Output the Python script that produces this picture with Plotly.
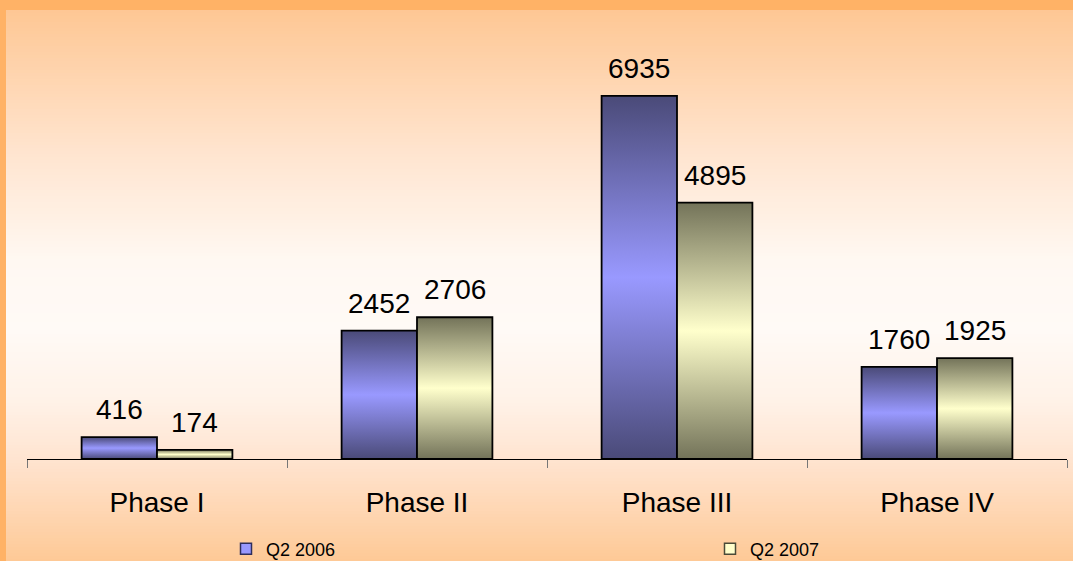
import plotly.graph_objects as go

# ---- data ----
phases = ["Phase I", "Phase II", "Phase III", "Phase IV"]
series_names = ["Q2 2006", "Q2 2007"]
q2_2006 = [416, 2452, 6935, 1760]
q2_2007 = [174, 2706, 4895, 1925]

# ---- styling ----
FONT = "Liberation Sans, Arial, sans-serif"
W, H = 1073, 561
M_L, M_R, M_T, M_B = 27, 6, 40, 102
Y_MAX = 8000
HALF = 0.29  # width of one bar in category units

shade = {
    "Q2 2006": ("#4a4a78", "#9999ff"),
    "Q2 2007": ("#737359", "#ffffcc"),
}
legend_fill = {"Q2 2006": "#9999ff", "Q2 2007": "#ffffcc"}
legend_edge = {"Q2 2006": "#2e2e5c", "Q2 2007": "#4a4a38"}
legend_left = {"Q2 2006": 226, "Q2 2007": 710}  # pixel x of each legend box

fig = go.Figure()

# bars drawn as filled outlines so each one can carry a dark-light-dark shading
for name, values, side in ((series_names[0], q2_2006, -1), (series_names[1], q2_2007, 1)):
    dark, light = shade[name]
    for i, v in enumerate(values):
        xa, xb = (i - HALF, i) if side < 0 else (i, i + HALF)
        fig.add_trace(go.Scatter(
            x=[xa, xa, xb, xb, xa], y=[0, v, v, 0, 0],
            mode="lines", fill="toself",
            line=dict(color="#000000", width=1.8),
            fillgradient=dict(type="vertical", start=0, stop=v,
                              colorscale=[[0, dark], [0.5, light], [1, dark]]),
            showlegend=False, hoverinfo="skip",
        ))
        fig.add_annotation(x=(xa + xb) / 2, y=v, text=str(v), showarrow=False,
                           yanchor="bottom", yshift=10,
                           font=dict(family=FONT, size=28, color="#000000"))

# one legend per series so the two entries sit far apart
for k, name in enumerate(series_names):
    fig.add_trace(go.Scatter(
        x=[None], y=[None], mode="markers", name=name,
        legend="legend" if k == 0 else "legend2",
        marker=dict(symbol="square", size=11, color=legend_fill[name],
                    line=dict(color=legend_edge[name], width=1.5)),
    ))

# ---- background: orange frame and soft vertical wash ----
plot_h = H - M_T - M_B
plot_w = W - M_L - M_R


def py2paper(py):
    return (H - M_B - py) / plot_h


def px2paper(px):
    return (px - M_L) / plot_w


wash = [(10, (254, 199, 148)), (150, (255, 228, 206)), (260, (255, 248, 242)),
        (330, (255, 250, 246)), (400, (255, 242, 232)), (460, (255, 228, 208)),
        (561, (254, 201, 150))]


def wash_color(py):
    for (y0, c0), (y1, c1) in zip(wash, wash[1:]):
        if y0 <= py <= y1:
            t = (py - y0) / (y1 - y0)
            return "rgb(%d,%d,%d)" % tuple(round(a + (b - a) * t) for a, b in zip(c0, c1))
    return "rgb(%d,%d,%d)" % wash[-1][1]


shapes = []
step = 3
for py in range(10, H, step):
    shapes.append(dict(type="rect", xref="paper", yref="paper", layer="below",
                       x0=px2paper(6), x1=px2paper(W + 2),
                       y0=py2paper(py + step + 0.5), y1=py2paper(py),
                       fillcolor=wash_color(py + step / 2), line=dict(width=0)))
frame = "#ffb266"
shapes.append(dict(type="rect", xref="paper", yref="paper", layer="below",
                   x0=px2paper(-2), x1=px2paper(W + 2), y0=py2paper(10), y1=py2paper(-2),
                   fillcolor=frame, line=dict(width=0)))
shapes.append(dict(type="rect", xref="paper", yref="paper", layer="below",
                   x0=px2paper(-2), x1=px2paper(6), y0=py2paper(H + 2), y1=py2paper(-2),
                   fillcolor=frame, line=dict(width=0)))


def legend_box(name):
    return dict(orientation="h", xref="container", yref="container",
                x=legend_left[name] / W, xanchor="left",
                y=(H - 549) / H, yanchor="middle",
                font=dict(family=FONT, size=18, color="#000000"),
                bgcolor="rgba(0,0,0,0)", itemclick=False, itemdoubleclick=False)


fig.update_layout(
    width=W, height=H,
    margin=dict(l=M_L, r=M_R, t=M_T, b=M_B, pad=0, autoexpand=False),
    paper_bgcolor="#ffe4cf", plot_bgcolor="rgba(0,0,0,0)",
    shapes=shapes,
    showlegend=True,
    legend=legend_box(series_names[0]),
    legend2=legend_box(series_names[1]),
    xaxis=dict(range=[-0.5, 3.5], tickvals=list(range(len(phases))), ticktext=phases,
               ticks="", showgrid=False, zeroline=False,
               showline=True, linecolor="#000000", linewidth=1,
               tickfont=dict(family=FONT, size=28, color="#000000"),
               ticklabelstandoff=18,
               minor=dict(tickvals=[i - 0.5 for i in range(len(phases) + 1)],
                          ticks="outside", ticklen=8, tickwidth=1, tickcolor="#777777",
                          showgrid=False),
               fixedrange=True),
    yaxis=dict(range=[0, Y_MAX], visible=False, showgrid=False, zeroline=False,
               fixedrange=True),
)

fig.write_html("out.html")
